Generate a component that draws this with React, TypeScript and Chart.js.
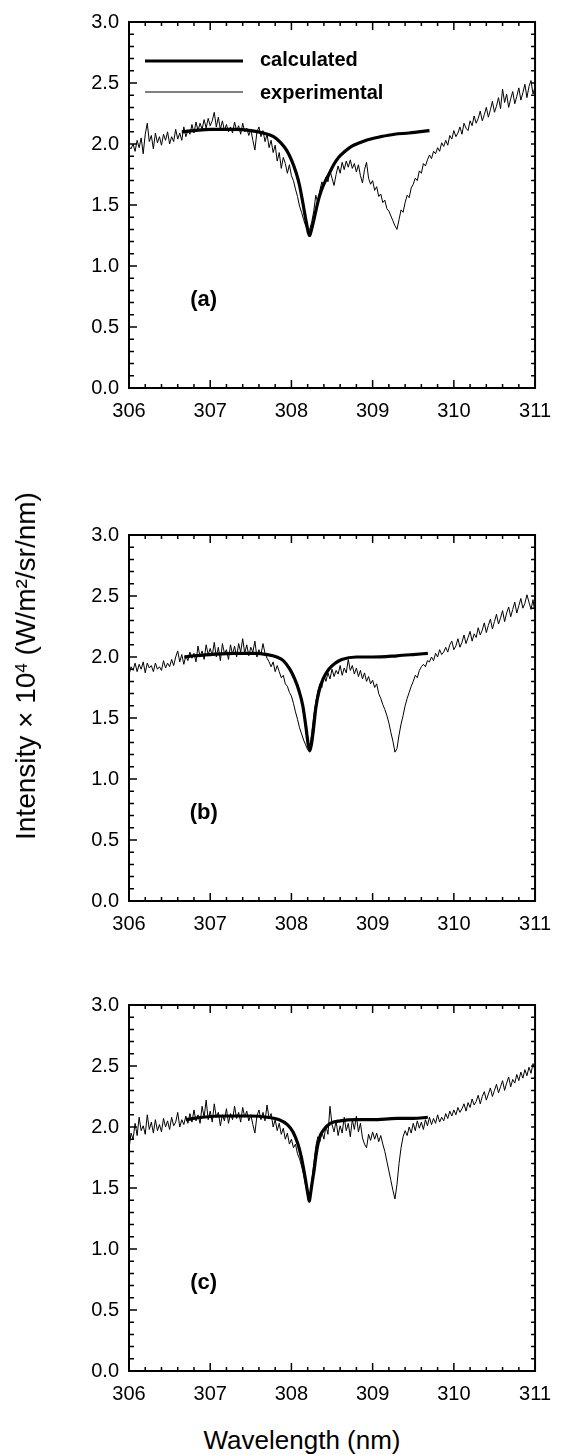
import React, { useEffect, useRef } from "react";
import { Chart, registerables } from "chart.js";

Chart.register(...registerables);

const FONT = '"Liberation Sans", Arial, Helvetica, sans-serif';

// sampling grid of the experimental spectra (nm)
const WL_START = 306;
const WL_STEP = 0.025;

const X_TICKS = [306, 307, 308, 309, 310, 311];
const Y_TICKS = [0, 0.5, 1.0, 1.5, 2.0, 2.5, 3.0];
const PANEL_LABELS = ["(a)", "(b)", "(c)"];
const LEGEND_LABELS = ["calculated", "experimental"];
const X_TITLE = "Wavelength (nm)";

// experimental spectra, one value every 0.025 nm from 306 to 311 nm
const EXP_A = [
  1.98, 1.96, 2.0, 1.94, 2.03, 1.97, 2.05, 1.92, 2.08, 2.17,
  2.02, 2.07, 1.96, 2.09, 2.01, 2.06, 1.99, 2.08, 2.03, 2.1,
  2.0, 2.06, 2.02, 2.12, 2.04, 2.09, 2.03, 2.14, 2.06, 2.11,
  2.08, 2.16, 2.09, 2.18, 2.11, 2.17, 2.12, 2.2, 2.13, 2.21,
  2.15, 2.19, 2.26, 2.14, 2.22, 2.12, 2.19, 2.11, 2.16, 2.1,
  2.14, 2.09, 2.18, 2.11, 2.15, 2.08, 2.17, 2.1, 2.13, 2.07,
  2.12, 2.03, 1.95, 2.1, 2.14, 2.06, 2.11, 2.02, 2.08, 1.97,
  2.03, 1.93, 1.99, 1.86, 1.93, 1.8, 1.89, 1.84, 1.76, 1.83,
  1.74, 1.7, 1.63, 1.57, 1.49, 1.44, 1.38, 1.33, 1.29, 1.3,
  1.36, 1.45, 1.58, 1.52, 1.62, 1.69, 1.66, 1.73, 1.69, 1.78,
  1.72, 1.66, 1.75, 1.82, 1.76, 1.85, 1.79, 1.86, 1.81, 1.87,
  1.8, 1.84, 1.77, 1.83, 1.74, 1.68, 1.79, 1.85, 1.72, 1.67,
  1.7, 1.62, 1.65, 1.57, 1.59, 1.52, 1.54, 1.47, 1.45, 1.41,
  1.37, 1.33, 1.3, 1.38, 1.46, 1.44, 1.52, 1.58, 1.56, 1.64,
  1.67, 1.72, 1.7, 1.78, 1.76, 1.84, 1.82, 1.87, 1.91, 1.88,
  1.94, 1.92, 1.97, 1.94, 2.01, 1.98, 2.03, 1.99, 2.07, 2.04,
  2.11, 2.06, 2.09, 2.14, 2.08, 2.17, 2.13, 2.11, 2.19, 2.15,
  2.23, 2.17, 2.21, 2.27, 2.19, 2.24, 2.3, 2.22, 2.28, 2.35,
  2.26, 2.31, 2.38, 2.29, 2.45, 2.34, 2.41, 2.3, 2.37, 2.43,
  2.33, 2.39, 2.46, 2.36, 2.42, 2.49, 2.38, 2.47, 2.52, 2.41,
  2.47,
];

const EXP_B = [
  1.85, 1.92, 1.89, 1.95, 1.88, 1.94, 1.9, 1.96, 1.87, 1.95,
  1.91, 1.93, 1.88, 1.95, 1.9, 1.92, 1.89, 1.97, 1.91, 1.95,
  1.92, 1.98, 1.93, 2.0, 2.05, 1.96, 2.02, 1.94, 2.01, 1.97,
  2.04, 1.99, 2.03, 1.96, 2.09, 2.0, 2.05, 1.98, 2.1, 2.02,
  2.07, 2.01, 2.12, 2.0, 2.08, 1.97, 2.11, 2.03, 2.06, 1.98,
  2.1, 2.02, 2.09, 2.0, 2.11, 2.04, 2.15, 2.03, 2.1, 2.01,
  2.08, 2.04, 2.13, 2.0, 2.06, 2.02, 2.11, 2.03, 1.99, 1.96,
  1.92, 1.96, 1.88, 1.93, 1.88, 1.83, 1.85, 1.78, 1.76, 1.71,
  1.68, 1.62, 1.55, 1.49, 1.42, 1.37, 1.32, 1.28, 1.24, 1.25,
  1.38, 1.52, 1.63, 1.72, 1.78, 1.75, 1.85, 1.8, 1.87, 1.82,
  1.9, 1.84, 1.89, 1.86, 1.93, 1.85, 1.91, 1.87, 1.98, 1.89,
  1.93, 1.86, 1.91, 1.84, 1.89, 1.82, 1.87, 1.8, 1.84, 1.78,
  1.81, 1.75, 1.78, 1.7, 1.66, 1.61, 1.57, 1.52, 1.46, 1.38,
  1.31, 1.22, 1.25, 1.36, 1.45, 1.52, 1.6, 1.66, 1.71, 1.76,
  1.8, 1.85, 1.83, 1.89, 1.92, 1.94, 1.92, 1.97, 1.96, 2.0,
  1.97, 2.03, 2.0, 2.06, 2.02, 2.04, 2.08, 2.04, 2.1, 2.13,
  2.06, 2.09, 2.15, 2.08, 2.12, 2.18, 2.11, 2.16, 2.21, 2.13,
  2.19, 2.16, 2.24, 2.18, 2.22, 2.28, 2.2, 2.26, 2.31, 2.23,
  2.29, 2.35, 2.27, 2.32, 2.38, 2.29, 2.36, 2.41, 2.33, 2.39,
  2.45, 2.36, 2.42, 2.48, 2.4, 2.44, 2.51, 2.45, 2.39, 2.47,
  2.35,
];

const EXP_C = [
  1.82, 1.95, 1.9, 2.03, 1.93, 2.08, 1.97, 2.01, 1.94, 2.1,
  1.98, 2.04, 1.95, 2.06, 1.97, 2.02, 1.96, 2.07, 2.0, 2.05,
  1.98, 2.08, 2.01, 2.04, 2.12, 2.0, 2.06, 2.02, 2.09, 2.03,
  2.11, 2.04, 2.14, 2.05, 2.1, 2.03, 2.17, 2.08, 2.22, 2.06,
  2.13, 2.04, 2.19, 2.08, 2.12, 2.01, 2.1, 2.05, 2.15, 2.03,
  2.11, 2.06, 2.17, 2.07, 2.12, 2.04, 2.16, 2.08, 2.13, 2.05,
  2.1, 2.02, 1.95, 2.09, 2.14, 2.06, 2.12, 2.05, 2.18, 2.07,
  2.11, 2.0, 2.06, 1.97, 2.03, 1.94, 1.99, 1.9, 1.95, 1.86,
  1.9, 1.83, 1.86, 1.78, 1.74, 1.68, 1.61, 1.52, 1.44, 1.42,
  1.55, 1.7, 1.84, 1.92, 1.88, 1.96, 1.9, 2.01, 1.94, 2.17,
  2.02, 1.96, 2.05, 1.93, 2.01, 1.95, 2.08, 1.97, 2.03, 1.92,
  2.06, 1.98, 2.09, 1.96, 2.03, 1.91, 1.86, 1.83, 1.94, 1.89,
  1.96, 1.9, 1.95, 1.88, 1.93, 1.86, 1.8, 1.72, 1.64, 1.56,
  1.48, 1.41, 1.53, 1.7, 1.83, 1.92, 1.97, 1.93, 2.0, 1.95,
  2.03, 1.97, 2.05, 1.99, 2.04, 1.98, 2.06, 2.01, 2.08, 2.02,
  2.07, 2.03, 2.1, 2.04, 2.08, 2.05, 2.11, 2.07, 2.13, 2.09,
  2.14, 2.1, 2.16, 2.12, 2.15, 2.19, 2.13, 2.2, 2.16, 2.23,
  2.18, 2.21, 2.26, 2.19, 2.25, 2.29, 2.22, 2.27, 2.32, 2.25,
  2.3, 2.35, 2.28, 2.33, 2.38, 2.3, 2.36, 2.41, 2.33, 2.39,
  2.36, 2.43, 2.38, 2.45, 2.4, 2.47, 2.42, 2.49, 2.44, 2.52,
  2.46,
];

// calculated spectra
const CALC_A_X = [306.65, 306.8, 307.0, 307.3, 307.5, 307.65, 307.78, 307.87, 307.94, 308.0, 308.06, 308.1, 308.14, 308.18, 308.21, 308.225, 308.24, 308.27, 308.3, 308.34, 308.38, 308.42, 308.46, 308.52, 308.58, 308.66, 308.74, 308.84, 308.94, 309.1, 309.27, 309.45, 309.7];
const CALC_A_Y = [2.1, 2.11, 2.12, 2.12, 2.11, 2.09, 2.06, 2.01, 1.95, 1.87, 1.76, 1.66, 1.52, 1.37, 1.27, 1.25, 1.28, 1.36, 1.45, 1.56, 1.64, 1.7, 1.75, 1.83, 1.89, 1.94, 1.98, 2.01, 2.035, 2.06, 2.08, 2.09, 2.11];

const CALC_B_X = [306.68, 306.8, 307.0, 307.3, 307.55, 307.7, 307.82, 307.9, 307.98, 308.04, 308.09, 308.14, 308.18, 308.205, 308.225, 308.245, 308.27, 308.3, 308.34, 308.39, 308.46, 308.54, 308.62, 308.8, 309.0, 309.3, 309.5, 309.68];
const CALC_B_Y = [2.0, 2.01, 2.02, 2.03, 2.03, 2.02, 2.0, 1.97, 1.9, 1.82, 1.73, 1.6, 1.42, 1.29, 1.23, 1.28, 1.4, 1.58, 1.72, 1.82, 1.9, 1.95, 1.98, 2.0, 2.0, 2.01, 2.02, 2.03];

const CALC_C_X = [306.7, 306.9, 307.2, 307.5, 307.7, 307.85, 307.95, 308.02, 308.08, 308.12, 308.16, 308.19, 308.205, 308.22, 308.235, 308.25, 308.28, 308.31, 308.35, 308.4, 308.48, 308.6, 308.8, 309.0, 309.3, 309.5, 309.68];
const CALC_C_Y = [2.06, 2.08, 2.09, 2.09, 2.08, 2.06, 2.02, 1.96, 1.86, 1.76, 1.62, 1.5, 1.44, 1.39, 1.45, 1.52, 1.65, 1.8, 1.92, 1.98, 2.03, 2.05, 2.06, 2.06, 2.07, 2.07, 2.08];

const CANVAS_W = 562;
const CANVAS_H = 428;

type PanelProps = {
  exp: number[];
  calcX: number[];
  calcY: number[];
  label: string;
  legend: boolean;
  top: number;
};

function Panel({ exp, calcX, calcY, label, legend, top }: PanelProps) {
  const ref = useRef<HTMLCanvasElement | null>(null);

  useEffect(() => {
    if (!ref.current) return;

    const deco = {
      id: "deco",
      afterDraw(chart: any) {
        const { ctx, chartArea } = chart;
        const { left, right, top: t, bottom } = chartArea;
        const xs = chart.scales.x;
        const ys = chart.scales.y;
        ctx.save();
        ctx.strokeStyle = "#000";
        ctx.lineCap = "butt";
        ctx.lineWidth = 1.5;
        ctx.beginPath();
        // x ticks (major every 1 nm, minor every 0.2 nm), inward, bottom and top
        for (let k = 0; k <= 25; k++) {
          const px = xs.getPixelForValue(xs.min + k * 0.2);
          const len = k % 5 === 0 ? 8 : 4;
          ctx.moveTo(px, bottom);
          ctx.lineTo(px, bottom - len);
          ctx.moveTo(px, t);
          ctx.lineTo(px, t + len);
        }
        // y ticks (major 0.5, minor 0.1), inward, left and right
        for (let k = 0; k <= 30; k++) {
          const py = ys.getPixelForValue(ys.min + k * 0.1);
          const len = k % 5 === 0 ? 8 : 5;
          ctx.moveTo(left, py);
          ctx.lineTo(left + len, py);
          ctx.moveTo(right, py);
          ctx.lineTo(right - 4, py);
        }
        ctx.stroke();
        ctx.lineWidth = 2;
        ctx.strokeRect(left, t, right - left, bottom - t);

        ctx.fillStyle = "#000";
        ctx.textBaseline = "middle";
        ctx.textAlign = "center";
        ctx.font = `bold 22px ${FONT}`;
        ctx.fillText(label, xs.getPixelForValue(306.92), ys.getPixelForValue(0.72));

        if (legend) {
          ctx.font = `bold 20px ${FONT}`;
          const x0 = left + 16;
          const x1 = left + 114;
          const y0 = t + 39;
          const y1 = t + 70;
          ctx.lineWidth = 3.2;
          ctx.beginPath();
          ctx.moveTo(x0, y0);
          ctx.lineTo(x1, y0);
          ctx.stroke();
          ctx.lineWidth = 1;
          ctx.beginPath();
          ctx.moveTo(x0, y1);
          ctx.lineTo(x1, y1);
          ctx.stroke();
          ctx.textAlign = "left";
          ctx.fillText(LEGEND_LABELS[0], left + 131, y0 - 1);
          ctx.fillText(LEGEND_LABELS[1], left + 131, y1 + 1);
        }
        ctx.restore();
      },
    };

    const chart = new Chart(ref.current, {
      type: "line",
      data: {
        datasets: [
          {
            label: LEGEND_LABELS[1],
            data: exp.map((v, i) => ({ x: WL_START + i * WL_STEP, y: v })),
            borderColor: "#000",
            borderWidth: 1,
            pointRadius: 0,
            tension: 0,
            order: 1,
          },
          {
            label: LEGEND_LABELS[0],
            data: calcX.map((x, i) => ({ x, y: calcY[i] })),
            borderColor: "#000",
            borderWidth: 3.2,
            pointRadius: 0,
            cubicInterpolationMode: "monotone",
            borderJoinStyle: "round",
            order: 2,
          },
        ],
      },
      options: {
        animation: false,
        responsive: false,
        devicePixelRatio: 1,
        events: [],
        layout: { padding: { top: 20, right: 18, left: 0, bottom: 0 } },
        plugins: {
          legend: { display: false },
          tooltip: { enabled: false },
        },
        scales: {
          x: {
            type: "linear",
            min: 306,
            max: 311,
            afterBuildTicks: (s: any) => {
              s.ticks = X_TICKS.map((v) => ({ value: v }));
            },
            afterFit: (s: any) => {
              s.height = 40;
            },
            grid: { display: false, drawTicks: false },
            border: { display: false },
            ticks: {
              color: "#000",
              font: { family: FONT, size: 20 },
              padding: 11,
              maxRotation: 0,
              autoSkip: false,
              callback: (v: any) => String(Math.round(Number(v))),
            },
          },
          y: {
            type: "linear",
            min: 0,
            max: 3,
            afterBuildTicks: (s: any) => {
              s.ticks = Y_TICKS.map((v) => ({ value: v }));
            },
            afterFit: (s: any) => {
              s.width = 129;
            },
            grid: { display: false, drawTicks: false },
            border: { display: false },
            ticks: {
              color: "#000",
              font: { family: FONT, size: 20 },
              padding: 10,
              autoSkip: false,
              callback: (v: any) => Number(v).toFixed(1),
            },
          },
        },
      },
      plugins: [deco],
    } as any);

    return () => chart.destroy();
  }, [exp, calcX, calcY, label, legend]);

  return (
    <canvas
      ref={ref}
      width={CANVAS_W}
      height={CANVAS_H}
      style={{ position: "absolute", left: 0, top, width: CANVAS_W, height: CANVAS_H }}
    />
  );
}

export default function App() {
  return (
    <div
      style={{
        position: "absolute",
        left: 0,
        top: 0,
        width: 562,
        height: 1455,
        background: "#fff",
        overflow: "hidden",
        fontFamily: FONT,
        color: "#000",
      }}
    >
      <Panel exp={EXP_A} calcX={CALC_A_X} calcY={CALC_A_Y} label={PANEL_LABELS[0]} legend={true} top={0} />
      <Panel exp={EXP_B} calcX={CALC_B_X} calcY={CALC_B_Y} label={PANEL_LABELS[1]} legend={false} top={513} />
      <Panel exp={EXP_C} calcX={CALC_C_X} calcY={CALC_C_Y} label={PANEL_LABELS[2]} legend={false} top={983} />
      <div
        style={{
          position: "absolute",
          left: 26,
          top: 666,
          transform: "translate(-50%, -50%) rotate(-90deg)",
          whiteSpace: "nowrap",
          fontSize: 28,
          lineHeight: "28px",
        }}
      >
        Intensity × 10
        <sup style={{ fontSize: 17, verticalAlign: "top", position: "relative", top: -4 }}>4</sup>
        {" "}(W/m²/sr/nm)
      </div>
      <div
        style={{
          position: "absolute",
          left: 302,
          top: 1427,
          transform: "translateX(-50%)",
          whiteSpace: "nowrap",
          fontSize: 26,
          lineHeight: "26px",
        }}
      >
        {X_TITLE}
      </div>
    </div>
  );
}
